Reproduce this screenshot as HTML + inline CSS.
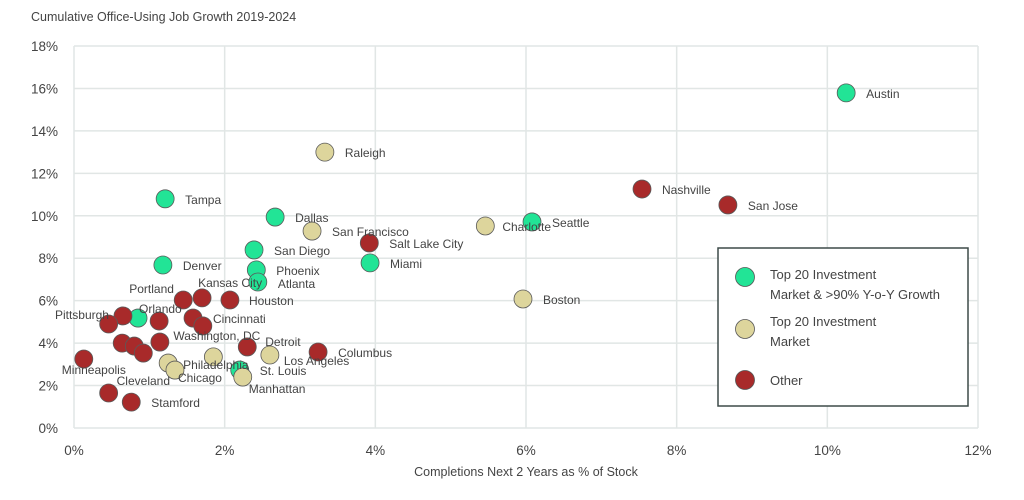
<!DOCTYPE html>
<html><head><meta charset="utf-8"><style>
body{margin:0;background:#fff;}
svg{display:block;font-family:"Liberation Sans",sans-serif;}
</style></head><body>
<svg id="c" width="1024" height="500" xmlns="http://www.w3.org/2000/svg">
<text x="31" y="21" font-size="12.5" fill="#444">Cumulative Office-Using Job Growth 2019-2024</text>
<g id="grid"></g>
<g id="pts"></g>
<text x="526" y="476" font-size="12.5" fill="#444" text-anchor="middle">Completions Next 2 Years as % of Stock</text>
<g>
<rect x="718" y="248" width="250" height="158" fill="#fff" stroke="#3d4a48" stroke-width="1.5"/>
<g><circle cx="745" cy="277" r="9.5" fill="#22e496" stroke="#555" stroke-width="0.8"/><text x="770" y="279" font-size="13" fill="#444">Top 20 Investment</text><text x="770" y="299" font-size="13" fill="#444">Market &amp; &gt;90% Y-o-Y Growth</text></g>
<g><circle cx="745" cy="329" r="9.5" fill="#ddd59c" stroke="#555" stroke-width="0.8"/><text x="770" y="326" font-size="13" fill="#444">Top 20 Investment</text><text x="770" y="346" font-size="13" fill="#444">Market</text></g>
<g><circle cx="745" cy="380" r="9.5" fill="#a82a2a" stroke="#555" stroke-width="0.8"/><text x="770" y="385" font-size="13" fill="#444">Other</text></g>
</g>
</svg>
<script>
const xTicks=[0,2,4,6,8,10,12];
const yTicks=[0,2,4,6,8,10,12,14,16,18];
const names=["Austin","Seattle","Tampa","Dallas","San Diego","Denver","Phoenix","Atlanta","Miami","Orlando","St. Louis",
"Raleigh","San Francisco","Charlotte","Boston","Philadelphia","Chicago","Washington, DC","Los Angeles","Manhattan",
"Nashville","San Jose","Salt Lake City","Columbus","Detroit","Houston","Kansas City","Portland","Cincinnati","","","Pittsburgh","","","","","","Minneapolis","Cleveland","Stamford"];
const groups=["g","g","g","g","g","g","g","g","g","g","g","t","t","t","t","t","t","t","t","t","r","r","r","r","r","r","r","r","r","r","r","r","r","r","r","r","r","r","r","r"];
const xVals=[10.25,6.08,1.21,2.67,2.39,1.18,2.42,2.44,3.93,0.85,2.2,3.33,3.16,5.46,5.96,1.25,1.34,1.85,2.6,2.24,7.54,8.68,3.92,3.24,2.3,2.07,1.7,1.45,1.58,1.71,1.13,0.65,0.46,0.64,0.8,0.92,1.14,0.13,0.46,0.76];
const yVals=[15.79,9.71,10.8,9.94,8.39,7.68,7.45,6.88,7.78,5.18,2.73,13.0,9.28,9.52,6.08,3.06,2.73,3.35,3.44,2.4,11.26,10.51,8.72,3.58,3.82,6.03,6.13,6.03,5.18,4.81,5.04,5.28,4.9,4.0,3.86,3.53,4.05,3.25,1.65,1.22];
// label offsets (dx,dy) in px relative to point
const labelDx=[20,20,20,20,20,20,20,20,20,1,20,20,20,17,20,15,3,-40,14,6,20,20,20,20,18,19,-4,-54,20,0,0,-68,0,0,0,0,0,-22,8,20];
const labelDy=[5,5,5,5,5,5,5,6,5,-5,5,5,5,5,5,6,12,-17,10,16,5,5,5,5,-1,5,-11,-7,5,0,0,3,0,0,0,0,0,15,-8,5];
const X0=74,X1=978,Y0=428,Y1=46;
const sx=v=>X0+(v-0)/12*(X1-X0);
const sy=v=>Y0-(v-0)/18*(Y0-Y1);
const NS="http://www.w3.org/2000/svg";
const grid=document.getElementById('grid'),pts=document.getElementById('pts');
const col={g:"#22e496",t:"#ddd59c",r:"#a82a2a"};
xTicks.forEach(t=>{
 const l=document.createElementNS(NS,'line');
 
 
 l.setAttribute('x1',sx(t));l.setAttribute('x2',sx(t));l.setAttribute('y1',Y1);l.setAttribute('y2',Y0);
 l.setAttribute('stroke','#e1e6e5');l.setAttribute('stroke-width','1.5');grid.appendChild(l);
 const tx=document.createElementNS(NS,'text');
 
 
 tx.setAttribute('x',sx(t));tx.setAttribute('y',455);tx.setAttribute('text-anchor','middle');
 tx.setAttribute('font-size','13.5');tx.setAttribute('fill','#444');tx.textContent=t+'%';grid.appendChild(tx);
});
yTicks.forEach(t=>{
 const l=document.createElementNS(NS,'line');
 
 
 l.setAttribute('x1',X0);l.setAttribute('x2',X1);l.setAttribute('y1',sy(t));l.setAttribute('y2',sy(t));
 l.setAttribute('stroke','#e1e6e5');l.setAttribute('stroke-width','1.5');grid.appendChild(l);
 const tx=document.createElementNS(NS,'text');
 
 
 tx.setAttribute('x',58);tx.setAttribute('y',sy(t)+5);tx.setAttribute('text-anchor','end');
 tx.setAttribute('font-size','13.5');tx.setAttribute('fill','#444');tx.textContent=t+'%';grid.appendChild(tx);
});
xVals.forEach((v,i)=>{
 const c=document.createElementNS(NS,'circle');
 
 
 c.setAttribute('cx',sx(v));c.setAttribute('cy',sy(yVals[i]));c.setAttribute('r',9);
 c.setAttribute('fill',col[groups[i]]);c.setAttribute('stroke','#5a5a5a');c.setAttribute('stroke-width','0.8');
 pts.appendChild(c);
});
xVals.forEach((v,i)=>{
 if(!names[i])return;
 const t=document.createElementNS(NS,'text');
 
 
 t.setAttribute('x',sx(v)+labelDx[i]);t.setAttribute('y',sy(yVals[i])+labelDy[i]);
 t.setAttribute('font-size','12');t.setAttribute('fill','#444');t.textContent=names[i];
 pts.appendChild(t);
});
</script>
</body></html>
